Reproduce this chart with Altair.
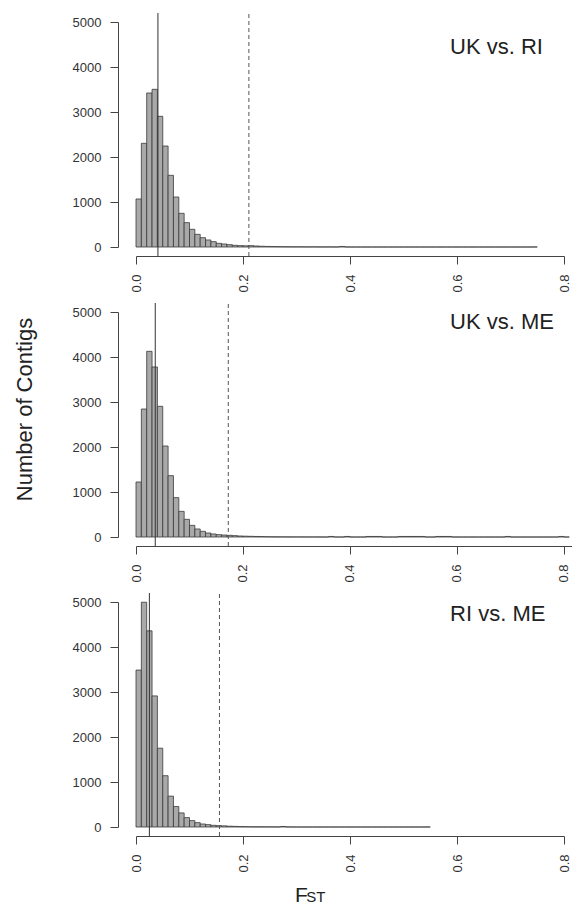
import altair as alt
import pandas as pd

FONT = "Liberation Sans"
BIN_WIDTH = 0.01

# histogram counts per 0.01 F_ST bin
uk_ri_counts = [
    1067, 2304, 3422, 3504, 2904, 2244, 1593, 1111, 748, 541,
    393, 281, 207, 156, 119, 81, 67, 52, 37, 30,
    26, 30, 22, 17, 13, 10, 8, 6, 5, 4,
    4, 3, 3, 3, 2, 2, 2, 1, 12, 1,
    0, 0, 0, 0, 0, 0, 0, 0, 0, 0,
    0, 0, 0, 0, 0, 0, 0, 0, 0, 0,
    0, 0, 0, 0, 0, 0, 0, 0, 0, 0,
    0, 0, 0, 0, 1,
]
uk_me_counts = [
    1222, 2844, 4126, 3778, 2904, 2022, 1363, 874, 570, 393,
    259, 178, 126, 89, 67, 52, 44, 37, 30, 22,
    18, 15, 12, 10, 6, 4, 3, 3, 2, 2,
    2, 1, 1, 1, 1, 0, 12, 0, 0, 12,
    0, 0, 0, 12, 12, 12, 0, 0, 0, 12,
    12, 12, 12, 12, 0, 0, 12, 12, 12, 0,
    0, 0, 0, 0, 0, 0, 0, 0, 0, 12,
    0, 0, 0, 0, 0, 0, 0, 0, 0, 12,
    0,
]
ri_me_counts = [
    3487, 4995, 4359, 2913, 1751, 1140, 686, 455, 313, 209,
    142, 97, 67, 52, 37, 30, 25, 18, 14, 10,
    7, 5, 4, 4, 3, 3, 2, 12, 2, 1,
    0, 0, 0, 0, 0, 0, 0, 0, 0, 0,
    0, 0, 0, 0, 0, 0, 0, 0, 0, 0,
    0, 0, 0, 0, 1,
]
panel_counts = [uk_ri_counts, uk_me_counts, ri_me_counts]
panel_labels = ["UK vs. RI", "UK vs. ME", "RI vs. ME"]
median_fst = [0.041, 0.036, 0.025]
cutoff_fst = [0.211, 0.1725, 0.156]
x_max = [0.8, 0.815, 0.8]
label_x = [0.587, 0.587, 0.587]
label_y = [4290, 4620, 4576]
x_ticks = [0.0, 0.2, 0.4, 0.6, 0.8]
y_ticks = [0, 1000, 2000, 3000, 4000, 5000]

PX_PER_UNIT = 535  # pixels per 1.0 of F_ST


def panel(i):
    counts = panel_counts[i]
    df = pd.DataFrame({
        "x0": [k * BIN_WIDTH for k in range(len(counts))],
        "x1": [(k + 1) * BIN_WIDTH for k in range(len(counts))],
        "count": counts,
    })
    df = df[df["x1"] <= x_max[i] + 1e-9]
    xscale = alt.Scale(domain=[0, x_max[i]], nice=False, zero=False)
    yscale = alt.Scale(domain=[0, 5000], nice=False)
    xaxis = alt.Axis(values=x_ticks, format=".1f", labelAngle=270, offset=9,
                     tickSize=8, labelPadding=10, grid=False, title=None)
    yaxis_kw = dict(values=y_ticks, format="d", offset=18, tickSize=8,
                    labelPadding=9, grid=False)
    if i == 1:
        yaxis = alt.Axis(title="Number of Contigs", titlePadding=36, titleY=97,
                         titleFontSize=22, titleFontWeight="normal",
                         titleFont=FONT, titleColor="#222", **yaxis_kw)
    else:
        yaxis = alt.Axis(title=None, **yaxis_kw)

    bars = alt.Chart(df).mark_rect(
        fill="#a9a9a9", stroke="#3a3a3a", strokeWidth=0.8
    ).encode(
        x=alt.X("x0:Q", scale=xscale, axis=xaxis),
        x2="x1:Q",
        y=alt.Y("count:Q", scale=yscale, axis=yaxis),
        y2=alt.datum(0),
    )
    med = alt.Chart(pd.DataFrame({"fst": [median_fst[i]]})).mark_rule(
        color="#333", strokeWidth=1
    ).encode(
        x=alt.X("fst:Q"),
        y=alt.datum(-200), y2=alt.datum(5200),
    )
    cut = alt.Chart(pd.DataFrame({"fst": [cutoff_fst[i]]})).mark_rule(
        color="#555", strokeWidth=1, strokeDash=[4, 3]
    ).encode(
        x=alt.X("fst:Q"),
        y=alt.datum(-200), y2=alt.datum(5200),
    )
    lab = alt.Chart(pd.DataFrame({"t": [panel_labels[i]]})).mark_text(
        align="left", baseline="alphabetic", fontSize=22, font=FONT, color="#222"
    ).encode(
        x=alt.datum(label_x[i]), y=alt.datum(label_y[i]), text="t:N"
    )
    layers = [bars, med, cut, lab]
    if i == 2:
        f_txt = alt.Chart(pd.DataFrame({"t": ["F"]})).mark_text(
            align="left", baseline="alphabetic", fontSize=21, font=FONT, color="#222"
        ).encode(x=alt.datum(0.297), y=alt.value(300), text="t:N")
        st_txt = alt.Chart(pd.DataFrame({"t": ["ST"]})).mark_text(
            align="left", baseline="alphabetic", fontSize=15, font=FONT, color="#222"
        ).encode(x=alt.datum(0.318), y=alt.value(300), text="t:N")
        layers += [f_txt, st_txt]
    return alt.layer(*layers).properties(
        width=round(x_max[i] * PX_PER_UNIT), height=225
    )


chart = alt.vconcat(
    panel(0), panel(1), panel(2), spacing=65, bounds="flush"
).configure_view(stroke=None).configure_axis(
    labelFont=FONT, labelFontSize=13, labelColor="#333",
    domainColor="#444", tickColor="#444", domainWidth=1, tickWidth=1,
).properties(
    padding={"left": 5, "top": 4, "right": 0, "bottom": 0}
)

chart.save("out.html", embed_options={"renderer": "svg", "actions": False})
